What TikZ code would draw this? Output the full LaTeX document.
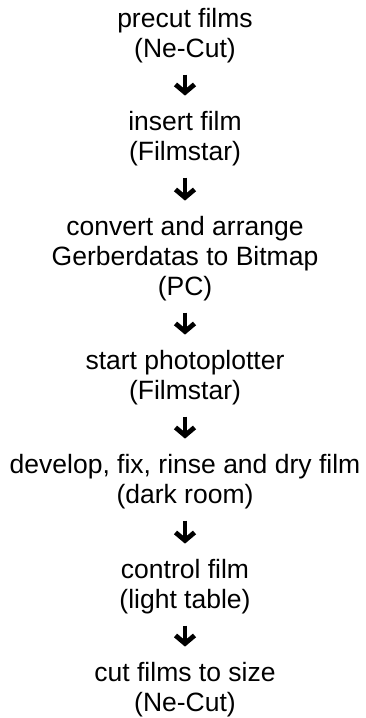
\documentclass[tikz,border=0pt]{standalone}
\usepackage{fontspec}
\setmainfont{Liberation Sans}
\usetikzlibrary{arrows.meta}

\tikzset{
  stepnode/.style={align=center, inner sep=0pt, anchor=base,
    font=\fontsize{26.5}{30}\selectfont},
  steparrow/.style={-{Straight Barb[length=8pt,width=19pt]}, line width=4.8pt,
    shorten <=12pt, shorten >=15pt}
}

\begin{document}
\begin{tikzpicture}[x=1pt,y=1pt]
  \useasboundingbox (0,0) rectangle (365,-718);

  % steps (base = last line)
  \node[stepnode] (precut) at (185,-57) {precut films\\(Ne-Cut)};
  \node[stepnode] (insert) at (185,-160) {insert film\\(Filmstar)};
  \node[stepnode] (convert) at (185,-295) {convert and arrange\\Gerberdatas to Bitmap\\(PC)};
  \node[stepnode] (plotter) at (185,-399) {start photoplotter\\(Filmstar)};
  \node[stepnode] (develop) at (185,-503) {develop, fix, rinse and dry film\\(dark room)};
  \node[stepnode] (control) at (185,-608) {control film\\(light table)};
  \node[stepnode] (cutsize) at (185,-711) {cut films to size\\(Ne-Cut)};

  % arrows
  \draw[steparrow] (precut) -- (insert);
  \draw[steparrow] (insert) -- (convert);
  \draw[steparrow] (convert) -- (plotter);
  \draw[steparrow] (plotter) -- (develop);
  \draw[steparrow] (develop) -- (control);
  \draw[steparrow] (control) -- (cutsize);

\end{tikzpicture}
\end{document}
